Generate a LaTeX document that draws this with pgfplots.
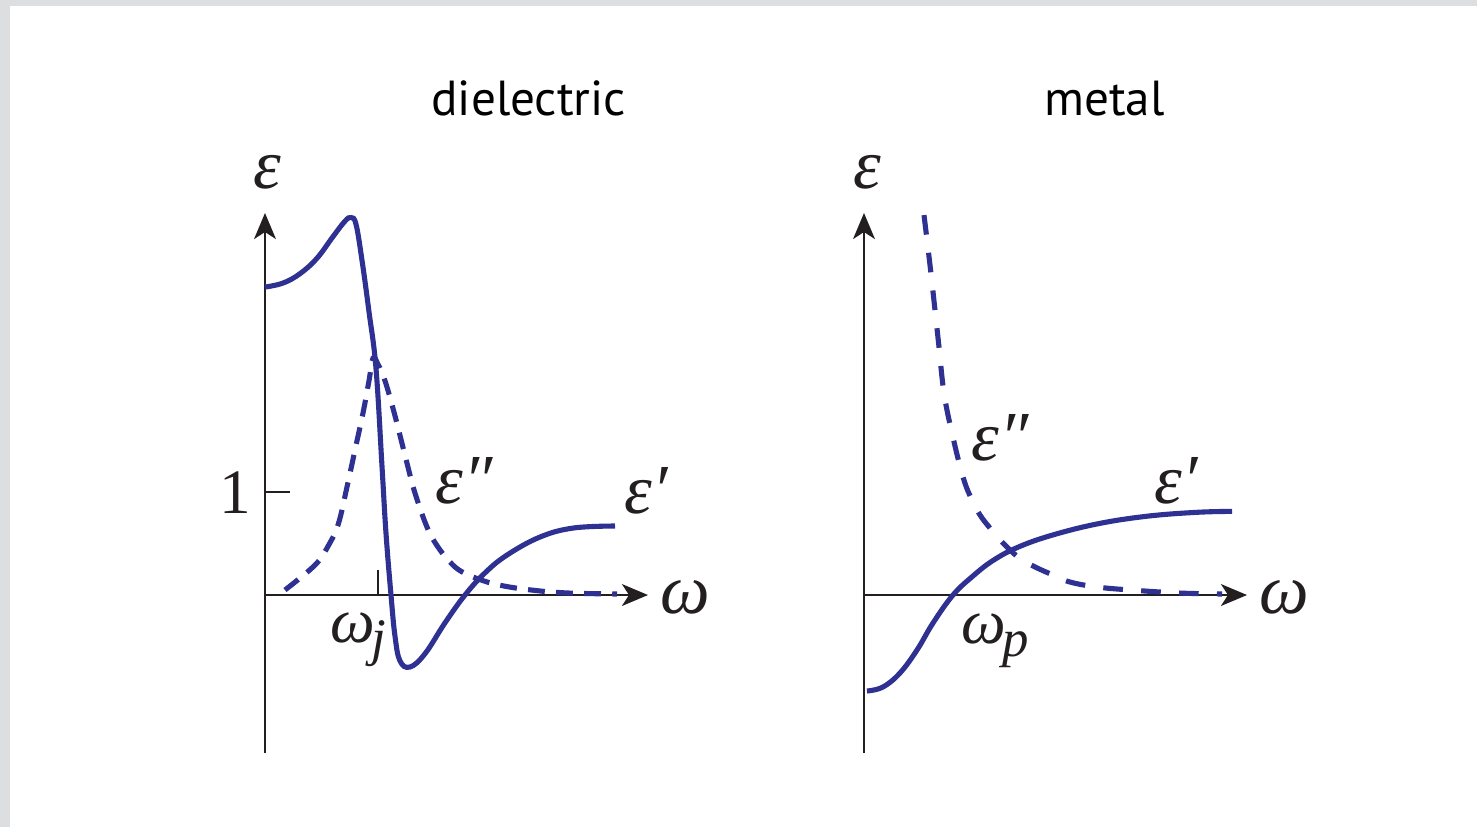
\documentclass[border=0pt]{standalone}
\usepackage{pgfplots}
\pgfplotsset{compat=1.18}
\usepackage{fontspec}
\usetikzlibrary{arrows.meta}
\newfontfamily\titlefont{PT Sans}
\newfontfamily\symfont{Liberation Serif}
\definecolor{curve}{RGB}{46,49,146}
\definecolor{ink}{RGB}{35,31,32}
\definecolor{frame}{RGB}{221,222,224}

\pgfplotsset{
  panel/.style={
    width=3.83cm, height=5.40cm, scale only axis,
    xmin=0, xmax=3.83, ymin=-1.534, ymax=3.709,
    axis lines=middle,
    axis line style={ink, line width=0.75pt, -{Stealth[length=7.4pt,width=6.2pt,inset=2pt]}},
    xtick=\empty, ytick=\empty,
    clip=false,
  },
  eps1/.style={curve, line width=1.45pt, smooth, tension=0.65},
  eps2/.style={curve, line width=1.45pt, smooth, tension=0.65, dash pattern=on 4.8pt off 3.2pt},
}

\begin{document}
\begin{tikzpicture}
\fill[frame] (0,0) rectangle (14.77cm,8.27cm);
\fill[white] (0.10cm,0) rectangle (14.77cm,8.21cm);
\useasboundingbox (0,0) rectangle (14.77cm,8.27cm);

% dielectric
\begin{axis}[panel, at={(2.65cm,0.74cm)}, anchor=south west]
\addplot[eps1] coordinates {
 (0,2.990) (0.18,3.029) (0.35,3.120) (0.52,3.270) (0.68,3.480) (0.80,3.630)
 (0.86,3.665) (0.91,3.600) (0.97,3.250) (1.04,2.750) (1.11,2.200) (1.17,1.250)
 (1.21,0.600) (1.26,0) (1.30,-0.40) (1.35,-0.64) (1.45,-0.699)
 (1.60,-0.570) (1.80,-0.270) (2.00,0) (2.20,0.215) (2.42,0.388)
 (2.75,0.563) (3.08,0.650) (3.50,0.670)
};
\addplot[eps2] coordinates {
 (0.20,0.049) (0.35,0.165) (0.52,0.311) (0.62,0.456) (0.73,0.680) (0.82,1.049)
 (0.90,1.408) (0.98,1.767) (1.04,2.080) (1.08,2.300) (1.13,2.240) (1.20,2.080) (1.30,1.740)
 (1.42,1.280) (1.50,0.990) (1.62,0.660) (1.72,0.480) (1.85,0.320) (1.97,0.225)
 (2.15,0.150) (2.35,0.095) (2.65,0.050) (3.02,0.020) (3.52,0.010)
};
\draw[ink, line width=0.75pt] (axis cs:0,1) -- (axis cs:0.25,1);
\draw[ink, line width=0.75pt] (axis cs:1.13,0) -- (axis cs:1.13,0.243);
\end{axis}

% metal
\begin{axis}[panel, at={(8.64cm,0.74cm)}, anchor=south west]
\addplot[eps1] coordinates {
 (0.03,-0.932) (0.19,-0.893) (0.36,-0.757) (0.53,-0.534) (0.69,-0.272)
 (0.89,0) (1.09,0.185) (1.29,0.335) (1.53,0.460) (1.86,0.575) (2.33,0.690)
 (2.83,0.765) (3.33,0.803) (3.68,0.812)
};
\addplot[eps2, dash pattern=on 5.6pt off 5.2pt] coordinates {
 (0.60,3.689) (0.66,3.204) (0.71,2.767) (0.75,2.408) (0.80,1.961)
 (0.88,1.573) (0.99,1.146) (1.08,0.922) (1.16,0.777)
 (1.26,0.650) (1.38,0.515) (1.54,0.369) (1.69,0.282) (1.89,0.194) (2.06,0.126)
 (2.33,0.078) (2.66,0.049) (3.16,0.019) (3.58,0.010)
};
\end{axis}

\begin{scope}[x=0.01cm, y=0.01cm, inner sep=0pt, outer sep=0pt]
\node[anchor=base, font=\titlefont\fontsize{14}{17}\selectfont] at (529,712) {dielectric};
\node[anchor=base, font=\titlefont\fontsize{14}{17}\selectfont] at (1105,712) {metal};
\begin{scope}[font=\symfont\fontsize{20}{24}\selectfont, text=ink]
\node[anchor=base] at (268,639) {\itshape ε};
\node[anchor=base] at (868,639) {\itshape ε};
\node[anchor=base] at (686,214) {\itshape ω};
\node[anchor=base] at (1285,214) {\itshape ω};
\node[anchor=base east, font=\symfont\fontsize{18}{22}\selectfont] at (251,314) {1};
\node[anchor=base west, font=\symfont\fontsize{18}{21}\selectfont] at (331,185) {\itshape ω\kern-1pt\raisebox{-0.45ex}{\fontsize{15}{17}\selectfont j}};
\node[anchor=base west, font=\symfont\fontsize{18}{21}\selectfont] at (962,184) {\itshape ω\kern-1pt\raisebox{-0.45ex}{\fontsize{15}{17}\selectfont p}};
\node[anchor=base west] at (436,324) {\itshape ε″};
\node[anchor=base west] at (625,314) {\itshape ε′};
\node[anchor=base west] at (972,367) {\itshape ε″};
\node[anchor=base west] at (1155,324) {\itshape ε′};
\end{scope}
\end{scope}
\end{tikzpicture}
\end{document}
